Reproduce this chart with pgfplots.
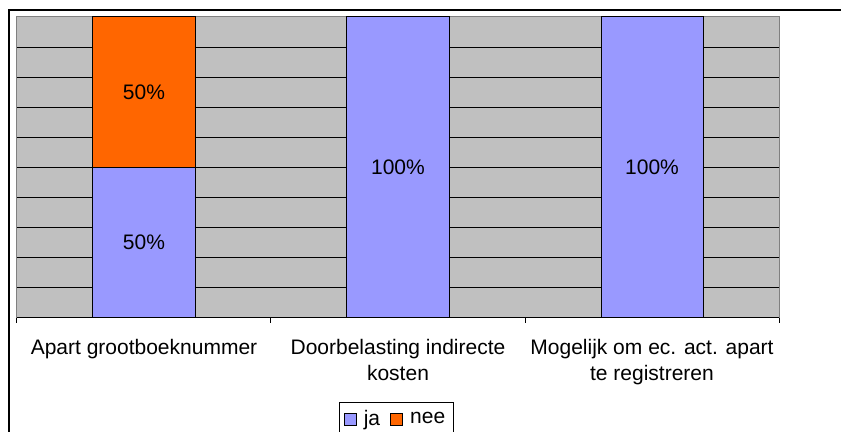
\documentclass[border=0pt]{standalone}
\usepackage{pgfplots}
\pgfplotsset{compat=1.18}
\usepackage{fontspec}
\setmainfont{Liberation Sans}
\definecolor{ja}{HTML}{9999FF}
\definecolor{nee}{HTML}{FF6600}
\definecolor{plotbg}{HTML}{C0C0C0}
\definecolor{frame}{HTML}{808080}

\begin{document}
\begin{tikzpicture}
  \useasboundingbox (0,0) rectangle (420.5pt,216pt);
  \draw[line width=0.8pt] (420.5pt,211pt) -- (4.5pt,211pt) -- (4.5pt,0pt);

  \pgfplotsset{
    common/.style={
      at={(8.5pt,57pt)}, anchor=south west,
      scale only axis, width=381pt, height=150.5pt,
      xmin=-0.5, xmax=2.5, ymin=0, ymax=100,
    },
  }

  \begin{axis}[
    common,
    ybar stacked,
    bar width=51pt,
    axis background/.style={fill=plotbg},
    axis line style={frame, line width=0.5pt},
    ytick={0,10,...,100},
    yticklabels={},
    ymajorgrids=true,
    major grid style={black, line width=0.5pt},
    y tick style={draw=none},
    xtick={0,1,2},
    xticklabels={Apart grootboeknummer, Doorbelasting indirecte\\kosten, Mogelijk om ec. act. apart\\te registreren},
    x tick label style={font=\fontsize{10.5}{13}\selectfont, align=center, yshift=-2.8pt},
    major x tick style={draw=none},
    minor xtick={-0.5,0.5,1.5,2.5},
    minor x tick style={black, line width=0.5pt},
    minor tick length=2.5pt,
    tick align=outside,
    xtick pos=bottom,
    legend columns=2,
    legend style={at={(0.5,0)}, anchor=north, yshift=-42pt, xshift=-0.75pt,
      font=\fontsize{10.5}{12.5}\selectfont, draw=black, line width=0.5pt,
      inner sep=2pt,
      /tikz/every odd column/.append style={column sep=1.5pt},
      /tikz/every even column/.append style={column sep=3pt}},
    legend image code/.code={\draw[#1, draw=black, line width=0.5pt] (0pt,-3pt) rectangle (6pt,3pt);},
  ]
    \addplot[fill=ja, draw=black, line width=0.5pt] coordinates {(0,50) (1,100) (2,100)};
    \addplot[fill=nee, draw=black, line width=0.5pt] coordinates {(0,50) (1,0) (2,0)};
    \legend{ja,nee}
    \draw[black, line width=0.5pt] (rel axis cs:0,0) -- (rel axis cs:1,0);
  \end{axis}

  \begin{axis}[
    common,
    hide axis,
    /pgf/number format/assume math mode=true,
    nodes near coords={\pgfmathprintnumber{\pgfplotspointmeta}\%},
    point meta=explicit,
    every node near coord/.append style={anchor=center, text=black,
      font=\fontsize{10.5}{12.5}\selectfont},
  ]
    \addplot[draw=none, mark=none] coordinates {(0,25) [50] (0,75) [50] (1,50) [100] (2,50) [100]};
  \end{axis}
\end{tikzpicture}
\end{document}
